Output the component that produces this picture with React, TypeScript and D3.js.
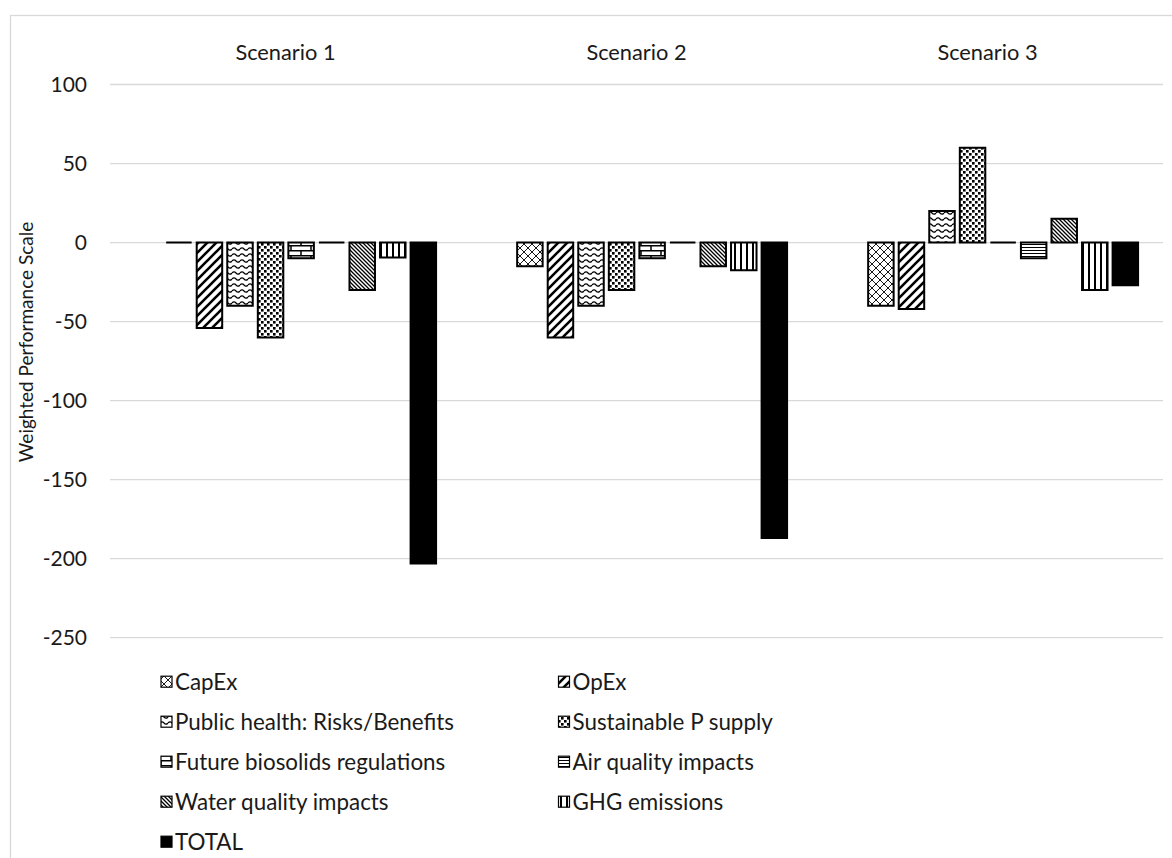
import React from "react";
import * as d3 from "d3";

// Scenario groups along the x axis
const scenarios = ["Scenario 1", "Scenario 2", "Scenario 3"];

// Criteria (one bar per criterion in each scenario)
const criteria = [
  "CapEx",
  "OpEx",
  "Public health: Risks/Benefits",
  "Sustainable P supply",
  "Future biosolids regulations",
  "Air quality impacts",
  "Water quality impacts",
  "GHG emissions",
  "TOTAL",
];

// Weighted performance per criterion, indexed by scenario
const capex = [0, -15, -40];
const opex = [-54, -60, -42];
const publicHealth = [-40, -40, 20];
const sustainableP = [-60, -30, 60];
const futureBiosolids = [-10, -10, 0];
const airQuality = [0, 0, -10];
const waterQuality = [-30, -15, 15];
const ghgEmissions = [-9.5, -17.5, -30];
const total = [-203, -187, -27];

const yTicks = [100, 50, 0, -50, -100, -150, -200, -250];

const seriesValues = [
  capex,
  opex,
  publicHealth,
  sustainableP,
  futureBiosolids,
  airQuality,
  waterQuality,
  ghgEmissions,
  total,
];

// Fill for each criterion (hatch patterns, solid black for the total)
const fills = [
  "url(#p-lattice)",
  "url(#p-wideup)",
  "url(#p-wave)",
  "url(#p-dots)",
  "url(#p-brick)",
  "url(#p-horiz)",
  "url(#p-down)",
  "url(#p-vert)",
  "#000",
];

const W = 1172;
const H = 858;
const FONT = "Lato, 'Open Sans', sans-serif";
const GRID = "#d9d9d9";
const INK = "#1a1a1a";

export default function App() {
  const x0 = d3.scaleBand<string>().domain(scenarios).range([110, 1163]);
  const bw = x0.bandwidth();
  const x1 = d3
    .scaleBand<string>()
    .domain(criteria)
    .range([bw * 0.16, bw * 0.929])
    .paddingInner(0.166);
  const y = d3.scaleLinear().domain([-250, 100]).range([637.7, 84.5]);

  const barPath = (x: number, w: number, v: number) => {
    const top = y(Math.max(0, v));
    const bot = y(Math.min(0, v));
    const p = d3.path();
    p.moveTo(x, top);
    p.lineTo(x + w, top);
    p.lineTo(x + w, bot);
    p.lineTo(x, bot);
    p.closePath();
    return p.toString();
  };

  const legendCols = [161, 558.5];
  const legendRow0 = 681.7;
  const legendStep = 40;

  return (
    <svg
      width={W}
      height={H}
      style={{ position: "absolute", left: 0, top: 0, background: "#fff" }}
      fontFamily={FONT}
    >
      <defs>
        <pattern id="p-lattice" patternUnits="userSpaceOnUse" width="8" height="8">
          <rect width="8" height="8" fill="#fff" />
          <path d="M0,0L8,8M8,0L0,8" stroke="#000" strokeWidth="0.9" />
        </pattern>
        <pattern id="p-wideup" patternUnits="userSpaceOnUse" width="9" height="9">
          <rect width="9" height="9" fill="#fff" />
          <path d="M-3,3L3,-3M0,9L9,0M6,12L12,6" stroke="#000" strokeWidth="2.6" />
        </pattern>
        <pattern id="p-wave" patternUnits="userSpaceOnUse" width="8" height="6">
          <rect width="8" height="6" fill="#fff" />
          <path d="M0,3Q2,0.6 4,3T8,3" stroke="#000" strokeWidth="1.2" fill="none" />
        </pattern>
        <pattern id="p-dots" patternUnits="userSpaceOnUse" width="6" height="6">
          <rect width="6" height="6" fill="#fff" />
          <rect x="0" y="0" width="2.6" height="2.6" fill="#000" />
          <rect x="3" y="3" width="2.6" height="2.6" fill="#000" />
        </pattern>
        <pattern id="p-brick" patternUnits="userSpaceOnUse" width="20" height="10">
          <rect width="20" height="10" fill="#fff" />
          <path d="M0,0.75H20M0,5.75H20M1,0V5M11,5V10" stroke="#000" strokeWidth="1.5" />
        </pattern>
        <pattern id="p-horiz" patternUnits="userSpaceOnUse" width="4" height="3">
          <rect width="4" height="3" fill="#fff" />
          <path d="M0,1.5H4" stroke="#000" strokeWidth="1" />
        </pattern>
        <pattern id="p-down" patternUnits="userSpaceOnUse" width="4" height="4">
          <rect width="4" height="4" fill="#fff" />
          <path d="M-1,-1L5,5M-1,3L1,5M3,-1L5,1" stroke="#000" strokeWidth="1.3" />
        </pattern>
        <pattern id="p-vert" patternUnits="userSpaceOnUse" width="6" height="6">
          <rect width="6" height="6" fill="#fff" />
          <path d="M3,0V6" stroke="#000" strokeWidth="2" />
        </pattern>
      </defs>

      {/* chart frame */}
      <rect x={10.5} y={15.5} width={1300} height={1000} fill="#fff" stroke={GRID} strokeWidth={1.3} />

      {/* gridlines and y tick labels */}
      {yTicks.map((t) => (
        <g key={t}>
          <line x1={110} x2={1163} y1={y(t)} y2={y(t)} stroke={GRID} strokeWidth={1.3} />
          <text x={87} y={y(t)} dy="0.35em" textAnchor="end" fontSize={21} fill={INK}>
            {t}
          </text>
        </g>
      ))}

      {/* y axis title */}
      <text
        transform={`translate(33,342) rotate(-90)`}
        textAnchor="middle"
        fontSize={19}
        fill={INK}
      >
        Weighted Performance Scale
      </text>

      {/* scenario labels across the top */}
      {scenarios.map((s) => (
        <text key={s} x={(x0(s) ?? 0) + bw / 2} y={60} textAnchor="middle" fontSize={21.8} fill={INK}>
          {s}
        </text>
      ))}

      {/* bars */}
      {scenarios.map((s, si) => (
        <g key={s}>
          {criteria.map((c, ci) => (
            <path
              key={c}
              d={barPath((x0(s) ?? 0) + (x1(c) ?? 0), x1.bandwidth(), seriesValues[ci][si])}
              fill={fills[ci]}
              stroke="#000"
              strokeWidth={2}
            />
          ))}
        </g>
      ))}

      {/* legend */}
      {criteria.map((c, i) => {
        const col = i % 2;
        const row = Math.floor(i / 2);
        const lx = legendCols[col];
        const ly = legendRow0 + row * legendStep;
        return (
          <g key={c}>
            <rect x={lx} y={ly - 5.5} width={11} height={11} fill={fills[i]} stroke="#000" strokeWidth={1.2} />
            <text x={lx + 14} y={ly} dy="0.35em" fontSize={22.4} fill={INK}>
              {c}
            </text>
          </g>
        );
      })}
    </svg>
  );
}
